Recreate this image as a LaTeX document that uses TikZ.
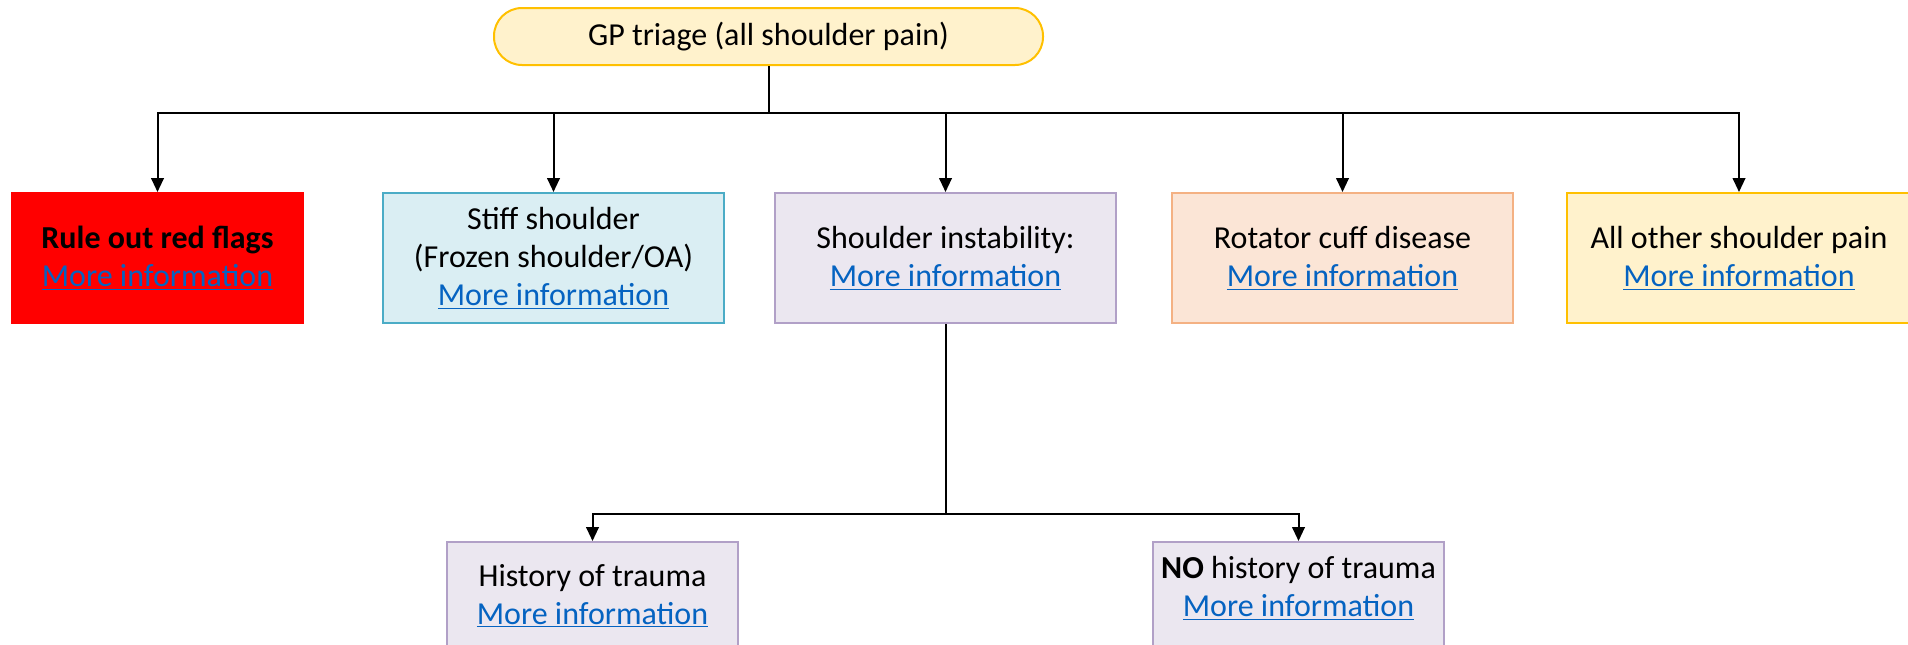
\documentclass[tikz,border=0pt]{standalone}
\usepackage{fontspec}
\setmainfont{Carlito}
\usetikzlibrary{arrows.meta}
\definecolor{linkblue}{HTML}{0563C1}
\definecolor{goldline}{HTML}{FFC000}
\definecolor{goldfill}{HTML}{FFF2CC}
\definecolor{blueline}{HTML}{4BACC6}
\definecolor{bluefill}{HTML}{DAEEF3}
\definecolor{purpleline}{HTML}{B1A0C7}
\definecolor{purplefill}{HTML}{EBE7F0}
\definecolor{orangeline}{HTML}{F4B183}
\definecolor{orangefill}{HTML}{FBE5D6}
\newcommand{\lnk}[1]{\textcolor{linkblue}{\underline{#1}}}
\tikzset{
  box/.style={draw, line width=1.5pt, align=center, inner sep=0pt,
    minimum width=255.75pt, minimum height=97.5pt,
    font={\fontsize{24pt}{28.5pt}\selectfont}},
  lowbox/.style={box, fill=purplefill, draw=purpleline, minimum width=218.25pt},
  txt/.style={align=center, inner sep=0pt, font={\fontsize{24pt}{28.5pt}\selectfont}},
  conn/.style={line width=1.5pt, draw=black},
  arr/.style={conn, -{Triangle[width=9.5pt,length=10.5pt]}}
}
\begin{document}
\begin{tikzpicture}[x=0.75pt, y=-0.75pt]
\useasboundingbox (0,0) rectangle (1908,644);
% top
\node[box, fill=goldfill, draw=goldline, minimum width=411.75pt, minimum height=42.75pt,
  rounded corners=21pt] (top) at (768.5,36.5) {GP triage (all shoulder pain)};
% level 1
\node[box, fill=red, draw=red, minimum width=218.25pt] (red) at (157.5,258)
  {\textbf{Rule out red flags}\\\lnk{More information}};
\node[box, fill=bluefill, draw=blueline] (stiff) at (553.5,258)
  {Stiff shoulder\\(Frozen shoulder/OA)\\\lnk{More information}};
\node[box, fill=purplefill, draw=purpleline] (inst) at (945.5,258)
  {Shoulder instability:\\\lnk{More information}};
\node[box, fill=orangefill, draw=orangeline] (rot) at (1342.5,258)
  {Rotator cuff disease\\\lnk{More information}};
\node[box, fill=goldfill, draw=goldline, minimum width=258.75pt] (other) at (1739,258)
  {All other shoulder pain\\\lnk{More information}};
% level 2
\node[lowbox] (hist) at (592.5,607) {};
\node[txt] (histtxt) at (592.5,596) {History of trauma\\\lnk{More information}};
\node[lowbox] (nohist) at (1298.5,607) {};
\node[txt] (nohisttxt) at (1298.5,588) {\textbf{NO} history of trauma\\\lnk{More information}};
% connectors
\coordinate (bus) at (768.5,113);
\coordinate (bus2) at (945.5,514);
\draw[conn] (top.south) -- (bus);
\draw[arr] (bus) -| (red.north);
\draw[arr] (bus) -| (stiff.north);
\draw[arr] (bus) -| (inst.north);
\draw[arr] (bus) -| (rot.north);
\draw[arr] (bus) -| (other.north);
\draw[conn] (inst.south) -- (bus2);
\draw[arr] (bus2) -| (hist.north);
\draw[arr] (bus2) -| (nohist.north);
\end{tikzpicture}
\end{document}
